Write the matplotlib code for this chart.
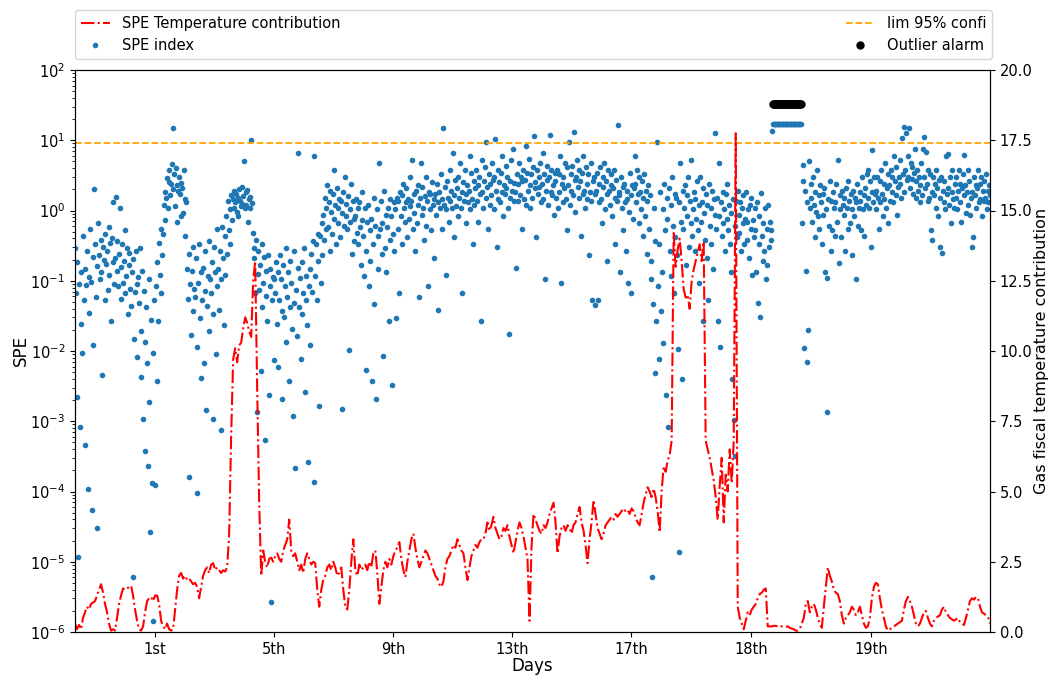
import numpy as np
import matplotlib
matplotlib.use("Agg")
import matplotlib.pyplot as plt

# ---------------- data ----------------
# SPE index, log10 values, one per time sample
spe_log10 = [
    # 1
    -0.53, -1.17, -0.74, -2.66, -4.93, -1.04, -3.08, -1.62, -0.87, -2.03,
    -0.36, -1.28, -3.34, -0.83, -1.06, -0.58, -3.97, -1.46, -0.94, -0.27,
    -1.02, -4.27, -0.66, -1.91, 0.31, -0.48, -1.23, -0.79, -4.52, -0.18,
    -0.63, -0.97, -0.42, -0.88, -2.34, -0.52, -0.71, -1.27, -0.33, -0.76,
    -0.57, -1.13, -0.24, -0.92, -0.46, -1.58, -0.39, -0.73, 0.12, -1.04,
    # 2
    -0.68, 0.19, -0.86, -0.43, -1.07, -0.62, 0.04, -1.26, -0.81, -0.47,
    -1.03, -0.72, -0.28, -1.18, -0.93, -0.54, -1.47, -0.77, -0.61, -1.12,
    -1.36, -0.88, -5.21, -0.69, -1.83, -1.16, -0.57, -1.04, -2.08, -0.94,
    -1.32, -0.53, -2.37, -1.71, -0.86, -2.97, -1.14, -1.87, -3.42, -1.38,
    -2.17, -3.63, -0.98, -2.72, -4.58, -1.56, -3.88, -2.03, -5.84, -1.27,
    # 3
    -3.91, -1.08, -2.43, -0.73, -1.57, -0.46, -0.92, -0.27, -1.18, -0.64,
    -0.33, 0.08, -0.13, 0.27, 0.18, 0.46, 0.03, 0.41, 0.57, 0.22,
    0.38, 0.66, 1.17, 0.31, 0.52, 0.07, 0.61, 0.36, -0.17, 0.28,
    0.47, 0.23, 0.39, -0.08, 0.32, -0.03, 0.58, 0.16, -0.37, 0.12,
    -0.83, -1.26, -3.79, -0.62, -1.04, -1.77, -0.86, -1.43, -0.52, -1.12,
    # 4
    -1.23, -0.68, -1.94, -4.02, -1.03, -0.47, -1.53, -2.38, -0.87, -1.28,
    -0.82, -2.17, -1.14, -0.57, -2.84, -1.36, -0.93, -0.43, -1.72, -0.98,
    -1.17, -0.73, -2.97, -1.48, -0.52, -0.88, -2.04, -1.07, -0.27, -0.83,
    -1.42, -0.58, -3.12, -0.97, -0.23, -0.68, -1.63, -0.37, -0.92, -0.08,
    -0.62, 0.13, -0.28, 0.02, -0.47, 0.22, -0.13, 0.17, 0.03, 0.28,
    # 5
    0.12, 0.23, -0.02, 0.18, -0.08, 0.31, 0.14, 0.07, 0.34, 0.09,
    0.21, 0.71, 0.03, 0.26, 0.08, 0.29, -0.17, 0.16, 0.19, 0.04,
    1.00, 0.11, -0.32, -0.68, -0.53, -1.17, -0.42, -2.87, -0.91, -0.58,
    -1.13, -0.77, -2.28, -0.48, -1.37, -1.03, -0.66, -3.27, -1.22, -0.86,
    -1.58, -0.63, -2.62, -1.07, -0.83, -5.58, -1.28, -0.94, -2.13, -0.97,
    # 6
    -1.18, -0.73, -1.62, -0.87, -2.23, -1.27, -0.63, -0.98, -2.68, -1.43,
    -0.77, -1.52, -1.08, -0.53, -1.87, -1.23, -0.88, -2.43, -1.37, -0.72,
    -1.03, -1.68, -2.92, -1.32, -0.57, -3.66, -1.13, -1.78, -0.82, 0.82,
    -1.38, -0.96, -2.12, -0.73, -1.47, -1.17, -0.54, -2.58, -0.93, -1.27,
    -1.63, -3.58, -1.07, -0.83, -1.92, -0.62, -1.16, -0.43, -3.86, 0.78,
    # 7
    -0.93, -0.48, -1.27, -0.33, -0.72, -2.78, -0.37, -1.03, -0.18, -0.63,
    -0.07, -0.42, 0.18, -0.27, 0.03, 0.37, -0.23, 0.12, -0.57, 0.28,
    -0.02, -0.33, 0.23, 0.58, -0.12, 0.08, -0.47, 0.32, -0.18, 0.04,
    0.17, -0.38, 0.13, -2.83, -0.03, 0.27, -0.22, 0.47, -0.08, 0.09,
    -0.27, 0.21, -1.98, 0.02, -0.17, 0.38, -0.62, 0.13, -0.12, -0.43,
    # 8
    -0.08, 0.17, -0.32, 0.03, -0.47, 0.12, -0.23, -0.78, 0.27, -0.13,
    -0.37, -0.93, 0.04, -0.58, -2.27, -0.17, 0.08, -1.07, -0.28, -0.72,
    -0.12, -2.42, -0.48, 0.18, -1.33, -0.22, -2.68, 0.02, -0.37, -0.83,
    0.68, -0.27, 0.13, -0.62, -0.18, -2.07, 0.28, -0.53, -0.07, -0.88,
    -0.23, 0.03, -1.57, -0.42, 0.17, -0.08, -2.48, -0.33, 0.12, -0.57,
    # 9
    0.02, -1.53, 0.18, -0.27, 0.13, -1.18, 0.27, -0.08, 0.22, -0.47,
    0.38, 0.03, -0.17, 0.12, 0.32, -0.38, 0.17, -0.12, 0.48, 0.07,
    0.14, 0.72, -0.27, 0.23, -0.03, -0.57, 0.28, -0.18, 0.08, 0.37,
    -1.23, 0.18, 0.68, -0.07, 0.33, 0.04, -0.42, 0.21, 0.47, -0.22,
    0.13, -1.08, 0.27, 0.02, 0.23, -0.28, 0.41, 0.08, -0.68, 0.17,
    # 10
    0.23, -0.07, 0.38, 0.12, -1.42, 0.27, 0.03, 0.52, 0.17, -0.27,
    1.18, 0.08, 0.33, -0.92, 0.02, 0.42, 0.18, -0.17, 0.58, 0.13,
    0.28, 0.04, 0.82, 0.22, -0.38, 0.43, 0.07, 0.32, -0.08, 0.48,
    0.18, 0.67, 0.03, 0.27, -1.17, 0.41, 0.13, 0.57, 0.23, -0.18,
    0.37, 0.12, 0.28, 0.78, 0.02, 0.53, 0.17, -0.48, 0.42, 0.08,
    # 11
    0.32, 0.57, 0.13, 0.37, -0.17, 0.48, 0.23, -1.58, 0.72, 0.27,
    0.03, 0.42, 0.62, 0.18, 0.98, 0.33, -0.27, 0.52, 0.08, 0.38,
    0.22, 0.68, 0.43, 0.02, 0.47, 1.02, 0.28, -0.52, 0.58, 0.17,
    0.41, 0.12, 0.53, 0.27, 0.77, -0.08, 0.37, 0.23, 0.63, 0.32,
    0.48, 0.03, -1.76, 0.42, 0.18, 0.72, 0.28, 0.88, 0.13, 0.39,
    # 12
    0.27, -0.82, 0.52, 0.13, 0.38, 0.67, 0.22, 0.48, -0.27, 0.42,
    0.58, 0.17, 0.43, 0.92, 0.08, 0.53, 0.28, 0.73, 0.03, 0.37,
    0.52, 0.18, 0.62, 1.06, 0.32, 0.41, -0.38, 0.57, 0.23, 0.47,
    0.33, 0.68, 0.12, 0.38, 0.82, 0.17, 0.52, -0.97, 0.28, 0.63,
    0.43, 0.08, 0.48, 1.08, 0.27, 0.58, 0.22, 0.37, -0.07, 0.53,
    # 13
    0.42, 0.18, 0.57, 0.03, 0.52, 0.27, 0.78, -1.03, 0.38, 0.12,
    0.47, 0.32, 0.68, 0.17, -0.28, 0.62, 0.37, 0.98, 0.08, 0.52,
    0.28, 0.63, 0.22, 1.12, 0.43, -0.02, 0.48, 0.72, 0.33, 0.18,
    0.58, 0.42, -0.37, 0.53, 0.23, 0.77, 0.28, 0.04, 0.62, 0.38,
    0.17, 0.52, -0.63, 0.27, 0.68, 0.13, -1.28, 0.42, 0.48, 0.23,
    # 14
    -1.35, 0.28, 0.53, -1.27, 0.12, 0.38, 0.62, 0.17, -0.18, 0.47,
    0.33, 0.68, 0.02, 0.42, -0.72, 0.23, 0.57, 0.28, 0.08, 0.52,
    0.37, -0.08, 0.32, 0.58, 0.18, -0.47, 0.43, 0.13, 1.21, 0.27,
    0.22, -0.88, 0.48, 0.03, 0.33, -0.28, 0.38, 0.12, -0.58, 0.17,
    0.28, -1.03, -0.02, 0.53, -1.17, 0.22, 0.37, -0.12, 0.32, 0.78,
    # 15
    0.38, 0.12, 0.57, 0.23, -0.18, 0.48, 0.27, 0.02, 0.42, -0.37,
    0.18, 0.52, -0.08, 0.28, -0.62, 0.13, 0.37, -0.27, 0.22, -0.98,
    -0.72, -5.22, -1.33, 0.03, -2.32, -0.43, -1.58, 0.97, -1.08, -2.12,
    -0.48, 0.27, -1.43, -0.87, 0.02, -1.88, 0.38, -0.28, -2.63, 0.18,
    -0.12, -3.08, 0.32, -0.57, 0.08, -0.93, 0.47, -0.22, -1.18, 0.23,
    # 16
    -0.38, 0.18, -0.63, -1.97, 0.12, -4.86, 0.68, -0.17, -2.40, 0.28,
    -0.27, 0.03, 0.37, -0.78, 0.22, -0.08, 0.48, -0.52, 0.13, -0.18,
    0.72, -0.37, 0.02, 0.27, -0.58, 0.17, -0.12, 0.42, -0.28, 0.08,
    -1.03, 0.47, -0.17, 0.12, -1.57, 0.32, -0.03, -0.42, 0.23, -0.68,
    0.08, -1.27, 0.38, -0.22, 0.03, -0.47, 0.28, -0.83, 0.17, -0.07,
    # 17
    1.10, -0.27, 0.18, -1.58, -0.08, 0.68, -1.94, 0.12, -0.37, 0.27,
    -0.18, 0.02, -0.57, 0.23, -0.12, 0.38, -0.28, 0.08, -0.48, -0.03,
    -0.88, -2.40, 0.17, -2.98, -0.22, -3.50, 0.13, -0.38, 0.28, -0.07,
    -0.32, 0.12, -0.58, 0.03, -0.18, 0.22, -0.47, -0.12, 0.27, -0.42,
    -0.17, 0.02, -0.68, 0.08, -0.27, 0.18, -0.92, -0.13, -0.38, 0.03,
    # 18 (saturated readings of 1.23 during the alarm)
    -0.28, -0.88, 0.12, -1.32, -0.47, -0.08, -1.52, 0.25, -0.37, -0.72,
    -0.18, -0.57, 0.03, -0.98, -0.27, -0.78, 0.08, -0.52, -0.17, -0.42,
    -0.28, 1.13, 1.23, 1.23, 1.23, 1.23, 1.23, 1.23, 1.23, 1.23,
    1.23, 1.23, 1.23, 1.23, 1.23, 1.23, 1.23, 1.23, 1.23, 1.23,
    1.23, 1.23, 1.23, 1.23, 1.23, 1.23, 1.23, 1.23, 1.23, 1.23,
    # 19
    1.23, 1.23, 1.23, 1.23, 1.23, 1.23, 1.23, 1.23, -0.18, 0.42,
    0.65, -1.96, 0.28, -0.86, -2.15, 0.12, -1.70, 0.70, 0.03, 0.38,
    0.18, -0.17, 0.48, 0.08, -0.38, 0.27, -0.02, 0.57, -0.08, 0.22,
    -0.27, 0.37, 0.12, -0.48, 0.23, -0.07, 0.32, -0.88, 0.02, -2.87,
    -0.96, 0.17, -0.22, 0.42, -0.57, 0.13, -0.28, 0.27, 0.03, -0.37,
    # 20
    0.12, 0.38, -0.17, 0.72, -0.75, 0.22, 0.02, -0.38, 0.28, 0.08,
    -0.07, 0.18, -0.58, 0.32, 0.03, -0.27, 0.42, 0.13, -0.18, 0.23,
    -0.63, 0.02, 0.28, -0.08, 0.18, -0.97, 0.12, 0.38, -0.22, 0.04,
    0.27, 0.13, -0.28, 0.48, 0.02, 0.22, -0.37, 0.32, 0.08, 0.52,
    0.18, 0.58, 0.03, 0.42, -0.52, 0.86, 0.27, 0.12, 0.47, 0.23,
    # 21
    0.28, 0.02, 0.47, 0.18, -0.27, 0.42, 0.12, 0.57, 0.23, -0.08,
    0.38, 0.17, 0.68, 0.03, 0.32, 0.52, -0.18, 0.37, 0.13, 0.58,
    0.27, 0.48, 0.12, 0.78, 0.42, 0.22, 0.62, -0.07, 0.33, 0.47,
    0.38, 0.72, 0.18, 1.03, 0.52, 1.19, 0.27, 0.57, 1.10, 0.43,
    0.77, 0.48, 1.18, 0.32, 0.68, 0.45, 0.62, 0.23, 0.53, 0.88,
    # 22
    0.42, 0.18, 0.57, 0.28, 0.48, 0.12, 0.37, 0.68, 0.22, 0.88,
    0.47, 1.05, 0.32, 0.83, 0.38, 0.13, 0.58, 0.18, 0.52, -0.28,
    0.27, -0.42, 0.48, 0.22, 0.38, 0.03, 0.57, 0.32, -0.08, 0.43,
    -0.52, 0.18, 0.47, -0.60, 0.28, 0.12, 0.42, 0.02, 0.78, 0.23,
    0.32, 0.80, 0.08, 0.48, -0.18, 0.27, 0.58, 0.17, 0.03, 0.38,
    # 23
    0.18, 0.47, 0.02, 0.28, 0.57, 0.12, 0.38, -0.17, 0.32, 0.52,
    0.79, 0.22, 0.37, -0.03, 0.27, 0.58, 0.08, 0.42, -0.07, 0.18,
    -0.52, 0.27, -0.38, 0.48, 0.22, 0.37, 0.03, 0.32, 0.57, 0.12,
    0.38, 0.17, 0.47, -0.08, 0.28, 0.13, 0.42, 0.18, 0.52, 0.02,
    0.28, 0.12, 0.37, 0.22,
]

# Gas fiscal temperature contribution (right axis), evenly sampled over the same period
temp_contrib = [
    0.3, 0.1, 0.25, 0.1, 0.5, 0.7, 0.9, 0.8, 1.0, 1.05,
    1.1, 1.3, 1.5, 1.7, 1.4, 1.0, 0.7, 0.3, 0.05, 0.1,
    0.05, 0.5, 1.0, 1.3, 1.55, 1.5, 1.55, 1.6, 1.65, 1.3,
    0.8, 0.4, 0.1, 0.05, 0.2, 0.7, 1.1, 1.2, 1.25, 1.1,
    1.3, 1.3, 1.0, 0.4, 0.2, 0.1, 0.3, 0.1, 0.05, 0.1,
    0.8, 1.5, 2.0, 2.1, 1.9, 2.0, 1.85, 1.9, 1.8, 1.7,
    1.75, 1.6, 1.2, 1.6, 2.0, 2.2, 2.3, 2.1, 2.4, 2.45,
    2.2, 2.3, 2.2, 2.1, 2.2, 2.15, 2.3, 3.5, 7.0, 9.7,
    10.1, 9.6, 10.2, 10.3, 10.8, 11.2, 11.0, 10.7, 10.5, 12.5,
    13.2, 8.6, 4.6, 2.0, 2.9, 2.5, 2.3, 2.6, 2.65, 2.5,
    2.7, 2.8, 2.6, 2.5, 2.9, 3.1, 3.3, 4.0, 2.9, 2.7,
    2.8, 2.5, 2.2, 2.4, 2.1, 2.6, 2.8, 2.6, 2.4, 2.5,
    2.45, 1.5, 0.9, 1.5, 1.85, 2.0, 2.3, 2.4, 2.2, 2.5,
    2.3, 2.0, 2.1, 2.3, 1.5, 0.9, 0.8, 1.5, 2.5, 3.3,
    2.2, 2.0, 2.4, 2.2, 2.3, 2.4, 2.2, 2.5, 2.3, 2.8,
    2.9, 2.1, 1.0, 1.6, 2.2, 2.5, 2.3, 2.6, 2.4, 2.7,
    2.9, 3.0, 3.2, 2.6, 2.2, 1.95, 2.5, 2.9, 3.3, 3.5,
    3.0, 2.6, 2.3, 2.5, 2.7, 2.9, 2.8, 2.6, 2.4, 2.2,
    2.0, 1.9, 1.7, 1.6, 1.8, 2.3, 2.6, 2.7, 2.9, 3.1,
    3.0, 3.3, 3.1, 2.9, 2.8, 2.3, 1.85, 2.3, 2.7, 2.9,
    3.1, 3.0, 3.2, 3.3, 3.3, 3.5, 3.9, 3.6, 3.8, 4.1,
    3.7, 3.5, 3.3, 3.4, 3.7, 3.6, 3.8, 3.4, 3.1, 2.8,
    3.2, 3.6, 3.9, 3.7, 3.4, 3.0, 2.6, 0.4, 3.0, 4.2,
    4.0, 3.8, 3.6, 3.5, 3.8, 3.7, 3.9, 4.2, 4.4, 4.6,
    3.9, 2.8, 3.4, 3.7, 3.8, 3.6, 3.8, 3.7, 3.5, 3.8,
    3.9, 4.2, 4.45, 3.9, 3.6, 3.1, 2.45, 3.3, 3.9, 4.7,
    4.2, 3.7, 3.5, 3.3, 3.5, 3.8, 3.9, 4.0, 4.1, 4.0,
    4.2, 4.1, 4.2, 4.3, 4.4, 4.3, 4.35, 4.2, 4.4, 4.3,
    4.1, 3.9, 3.8, 4.2, 4.6, 4.9, 5.15, 5.0, 4.8, 5.1,
    4.8, 4.3, 3.55, 5.0, 5.9, 5.7, 6.1, 6.3, 6.8, 14.2,
    13.0, 13.6, 14.0, 13.2, 12.2, 11.9, 12.0, 11.5, 12.5, 12.9,
    13.2, 13.5, 13.8, 13.2, 13.9, 6.8, 6.5, 6.2, 5.8, 5.4,
    4.8, 4.0, 5.2, 6.2, 3.9, 5.6, 5.0, 6.5, 5.3, 6.8,
    17.75, 0.9, 0.5, 0.3, 0.1, 0.4, 0.7, 0.6, 0.8, 0.9,
    1.0, 1.2, 1.35, 1.4, 1.5, 1.55, 0.2, 0.2, 0.2, 0.22,
    0.22, 0.2, 0.22, 0.2, 0.2, 0.18, 0.2, 0.15, 0.12, 0.1,
    0.05, 0.05, 0.1, 0.3, 0.5, 1.0, 1.1, 0.7, 0.9, 1.0,
    0.8, 0.5, 0.3, 0.15, 0.9, 1.6, 2.3, 2.0, 1.8, 1.5,
    1.4, 1.35, 1.1, 0.6, 0.3, 0.5, 0.6, 0.7, 0.9, 0.8,
    0.6, 0.7, 0.9, 0.6, 0.3, 0.15, 0.2, 0.5, 1.2, 1.6,
    1.75, 1.7, 1.2, 0.8, 0.5, 0.2, 0.05, 0.1, 0.15, 0.2,
    0.25, 0.3, 0.35, 0.4, 0.8, 1.1, 1.25, 1.1, 0.9, 0.6,
    0.3, 0.2, 0.3, 0.5, 0.7, 0.75, 0.5, 0.3, 0.2, 0.4,
    0.5, 0.55, 0.6, 0.8, 0.9, 0.7, 0.6, 0.5, 0.45, 0.4,
    0.45, 0.5, 0.35, 0.3, 0.25, 0.5, 0.8, 1.1, 1.2, 1.15,
    1.25, 1.2, 0.9, 0.7, 0.65, 0.6, 0.55, 0.3,
]

spe_limit = 9.2            # 95% confidence limit
saturated_log10 = 1.23     # SPE reading flagged as outlier
alarm_level = 32.5         # height at which the alarm markers are shown

day_labels = ["1st", "5th", "9th", "13th", "17th", "18th", "19th"]
day_tick_frac = [0.0874, 0.2175, 0.3475, 0.4776, 0.6077, 0.7388, 0.8699]

# ---------------- plot ----------------
spe = 10.0 ** np.array(spe_log10)
n = len(spe)
x = np.arange(n)
x_temp = np.linspace(0, n - 1, len(temp_contrib))
alarm_mask = np.isclose(spe_log10, saturated_log10)
x_alarm = x[alarm_mask]
y_alarm = np.full(x_alarm.shape, alarm_level)

fig = plt.figure(figsize=(10.51, 6.75), dpi=100)
ax1 = fig.add_axes([75 / 1051, 43 / 675, 915 / 1051, 562 / 675])
ax2 = ax1.twinx()

h_spe, = ax1.plot(x, spe, '.', color='#1f77b4', markersize=6, label='SPE index', zorder=2)
h_lim = ax1.axhline(spe_limit, color='orange', linestyle='--', linewidth=1.3, label='lim 95% confi')
h_al, = ax1.plot(x_alarm, y_alarm, 'o', color='black', markersize=5, label='Outlier alarm')
h_tmp, = ax2.plot(x_temp, temp_contrib, '-.', color='red', linewidth=1.5,
                  label='SPE Temperature contribution')

ax1.set_yscale('log')
ax1.set_ylim(1e-6, 1e2)
ax1.set_xlim(0, n - 1)
ax2.set_ylim(0, 20)
ax2.set_yticks(np.arange(0, 20.01, 2.5))
ax2.set_yticklabels([f"{v:.1f}" for v in np.arange(0, 20.01, 2.5)])

ticks = [f * (n - 1) for f in day_tick_frac]
ax1.set_xticks(ticks)
ax1.set_xticklabels(day_labels)

fs = 10.5
ax1.tick_params(labelsize=fs)
ax2.tick_params(labelsize=fs)
ax1.set_xlabel('Days', fontsize=12, labelpad=0.5)
ax1.set_ylabel('SPE', fontsize=12, labelpad=0)
ax2.set_ylabel('Gas fiscal temperature contribution', fontsize=11.5, labelpad=1)

fig.legend([h_tmp, h_spe, h_lim, h_al],
           ['SPE Temperature contribution', 'SPE index', 'lim 95% confi', 'Outlier alarm'],
           bbox_to_anchor=(75 / 1051, (675 - 59) / 675, 917 / 1051, 47 / 675),
           loc='lower left', ncol=2, mode='expand', borderaxespad=0,
           fontsize=fs)

fig.savefig('out.png', dpi=100)
